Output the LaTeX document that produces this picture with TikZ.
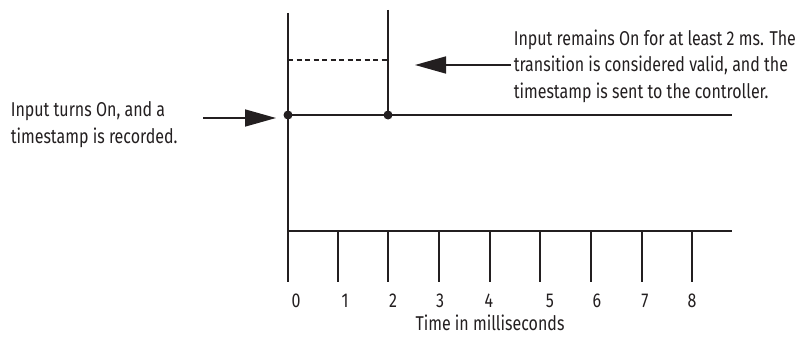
\documentclass[tikz,border=0pt]{standalone}
\usepackage{fontspec}
\setmainfont{Fira Sans}[FakeStretch=0.80]
\usetikzlibrary{arrows.meta}
\definecolor{ink}{HTML}{231F20}

\begin{document}
\begin{tikzpicture}[x=1pt,y=-1pt,line width=1.6pt,draw=ink,text=ink,
  note/.style={inner sep=0pt,align=left,font=\fontsize{20}{26.5}\selectfont},
  ticklabel/.style={inner sep=0pt,anchor=base,font=\fontsize{20}{24}\selectfont},
  pointer/.style={-{Triangle[length=31pt,width=17pt]}},
  dot/.style={circle,fill=ink,inner sep=0pt,minimum size=9pt}]
  \useasboundingbox (0,0) rectangle (795,337);
  % Signal points and line ends
  \coordinate (top0) at (288,13);
  \coordinate (top2) at (388,10);
  \node[dot] (on) at (288,115) {};
  \node[dot] (valid) at (388,115) {};
  \coordinate (sigend) at (732,115);
  \coordinate (dash0) at (288,60);
  \coordinate (dash2) at (388,60);
  % Axis and ticks
  \coordinate (a0) at (288,231);
  \coordinate (a1) at (338,231);
  \coordinate (a2) at (388,231);
  \coordinate (a3) at (439,231);
  \coordinate (a4) at (490,231);
  \coordinate (a5) at (540,231);
  \coordinate (a6) at (591,231);
  \coordinate (a7) at (642,231);
  \coordinate (a8) at (692,231);
  \coordinate (axend) at (732,231);
  \coordinate (t0) at (288,282);
  \coordinate (t1) at (338,282);
  \coordinate (t2) at (388,282);
  \coordinate (t3) at (439,282);
  \coordinate (t4) at (490,282);
  \coordinate (t5) at (540,282);
  \coordinate (t6) at (591,282);
  \coordinate (t7) at (642,282);
  \coordinate (t8) at (692,282);
  \node[ticklabel] (l0) at (296,307) {0};
  \node[ticklabel] (l1) at (345,307) {1};
  \node[ticklabel] (l2) at (393,307) {2};
  \node[ticklabel] (l3) at (440,307) {3};
  \node[ticklabel] (l4) at (489,307) {4};
  \node[ticklabel] (l5) at (550,307) {5};
  \node[ticklabel] (l6) at (597,307) {6};
  \node[ticklabel] (l7) at (645,307) {7};
  \node[ticklabel] (l8) at (692,307) {8};
  \node[ticklabel] (unit) at (490,330) {Time in milliseconds};
  % Notes
  \node[note,anchor=north west] (turnson) at (10,101) {Input turns On, and a\\timestamp is recorded.};
  \node[note,anchor=north west] (remains) at (513,29) {Input remains On for at least 2 ms. The\\transition is considered valid, and the\\timestamp is sent to the controller.};
  \coordinate (leftfrom) at (203,118);
  \coordinate (lefttip) at (276,118);
  \coordinate (rightfrom) at (511,65);
  \coordinate (righttip) at (415,65);
  % Draw the signal
  \draw (top0) -- (t0);
  \draw (top2) -- (valid.center);
  \draw (on.center) -- (sigend);
  \draw[line width=1.3pt,dash pattern=on 5pt off 3.5pt] (dash0) -- (dash2);
  \draw (a0) -- (axend);
  \draw (a1) -- (t1);
  \draw (a2) -- (t2);
  \draw (a3) -- (t3);
  \draw (a4) -- (t4);
  \draw (a5) -- (t5);
  \draw (a6) -- (t6);
  \draw (a7) -- (t7);
  \draw (a8) -- (t8);
  \draw[pointer] (leftfrom) -- (lefttip);
  \draw[pointer] (rightfrom) -- (righttip);
\end{tikzpicture}
\end{document}
